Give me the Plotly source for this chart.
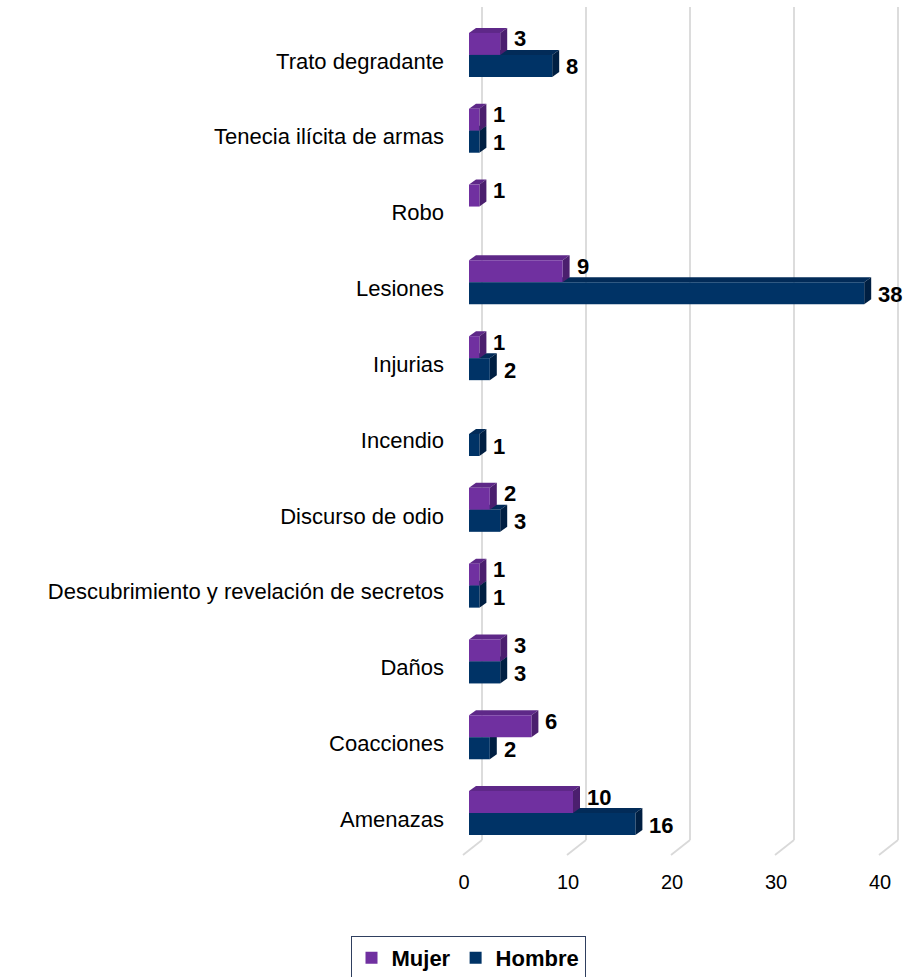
import plotly.graph_objects as go

# ---- data (top to bottom as shown) ----
categories = [
    "Trato degradante",
    "Tenecia ilícita de armas",
    "Robo",
    "Lesiones",
    "Injurias",
    "Incendio",
    "Discurso de odio",
    "Descubrimiento y revelación de secretos",
    "Daños",
    "Coacciones",
    "Amenazas",
]
mujer = [3, 1, 1, 9, 1, 0, 2, 1, 3, 6, 10]
hombre = [8, 1, 0, 38, 2, 1, 3, 1, 3, 2, 16]
x_ticks = [0, 10, 20, 30, 40]
series_names = ["Mujer", "Hombre"]

# ---- layout geometry ----
W, H = 909, 977
PL, PR, PT, PB = 469, 885, 17, 851
XMAX = 40
n = len(categories)
PW, PH = PR - PL, PB - PT
ppx = PW / XMAX                  # pixels per value unit
ppc = PH / n                     # pixels per category
DX, DY = 7, 5                    # 3D depth in pixels
dxd, dyd = DX / ppx, DY / ppc
bw = 22 / ppc                    # bar thickness in category units

FONT = "Liberation Sans, Arial, sans-serif"
colors = {
    "Mujer": ("#7030A0", "#5E2888", "#4B1F6E"),
    "Hombre": ("#003366", "#022B58", "#001F42"),
}

idx = list(range(n))
fig = go.Figure()

shapes = []
# slanted 3D gridlines (paper refs so the 40 line is not clipped)
for t in x_ticks:
    xb = t / XMAX + 13 / PW
    xf = t / XMAX - 6 / PW
    yk = (PB - 840) / PH
    shapes.append(dict(type="line", xref="paper", yref="paper", layer="below",
                       x0=xb, x1=xb, y0=yk, y1=1 + 10 / PH,
                       line=dict(color="#D9D9D9", width=1.8)))
    shapes.append(dict(type="line", xref="paper", yref="paper", layer="below",
                       x0=xb, x1=xf, y0=yk, y1=(PB - 855) / PH,
                       line=dict(color="#D9D9D9", width=1.8)))

annotations = []
face_shapes = {"Mujer": [], "Hombre": []}
for name, vals, off, yshift in [("Mujer", mujer, -bw, 5), ("Hombre", hombre, 0.0, -1)]:
    front, top, side = colors[name]
    fig.add_trace(go.Bar(
        name=name, orientation="h", y=idx, x=vals,
        width=bw, offset=off,
        marker=dict(color=front, line=dict(width=0)),
        hoverinfo="x+name",
    ))
    for i, v in enumerate(vals):
        if v <= 0:
            continue
        y_top = i + off
        y_bot = i + off + bw
        tp = (f"M 0,{y_top} L {v},{y_top} L {v + dxd},{y_top - dyd} "
              f"L {dxd},{y_top - dyd} Z")
        sp = (f"M {v},{y_top} L {v + dxd},{y_top - dyd} L {v + dxd},{y_bot - dyd} "
              f"L {v},{y_bot} Z")
        face_shapes[name].append(dict(type="path", xref="x", yref="y", layer="below",
                                      path=tp, fillcolor=top, line=dict(width=0)))
        face_shapes[name].append(dict(type="path", xref="x", yref="y", layer="below",
                                      path=sp, fillcolor=side, line=dict(width=0)))
        annotations.append(dict(
            x=v, y=i + off + bw / 2, xref="x", yref="y",
            text=f"<b>{v}</b>", showarrow=False, xanchor="left", yanchor="middle",
            xshift=12, yshift=yshift,
            font=dict(family=FONT, size=22, color="#000000"),
        ))

shapes += face_shapes["Hombre"] + face_shapes["Mujer"]

fig.update_layout(
    width=W, height=H,
    margin=dict(l=PL, r=W - PR, t=PT, b=H - PB, autoexpand=False),
    paper_bgcolor="white", plot_bgcolor="white",
    barmode="overlay",
    font=dict(family=FONT, size=20, color="#000000"),
    shapes=shapes,
    annotations=annotations,
    showlegend=True,
    legend=dict(
        orientation="h", xref="container", yref="container",
        x=468 / W, xanchor="center", y=1 - 936 / H, yanchor="top",
        bordercolor="#2F3F5F", borderwidth=1, bgcolor="white",
        font=dict(family=FONT, size=22, color="#000000", weight="bold"),
        traceorder="normal", itemwidth=30,
    ),
    xaxis=dict(
        range=[0, XMAX], tickvals=x_ticks, ticktext=[str(t) for t in x_ticks],
        showgrid=False, zeroline=False, showline=False, ticks="",
        tickfont=dict(family=FONT, size=20, color="#000000"),
        ticklabelshift=-5, ticklabelstandoff=17, fixedrange=True,
    ),
    yaxis=dict(
        range=[n - 0.5, -0.5], tickvals=idx, ticktext=categories,
        showgrid=False, zeroline=False, showline=False, ticks="",
        tickfont=dict(family=FONT, size=22, color="#000000"),
        ticklabelstandoff=24, ticklabelshift=-6, fixedrange=True,
    ),
)

fig.write_html(
    "out.html",
    config={"displayModeBar": False},
    post_script="document.body.style.margin='0';document.body.style.overflow='hidden';",
)
